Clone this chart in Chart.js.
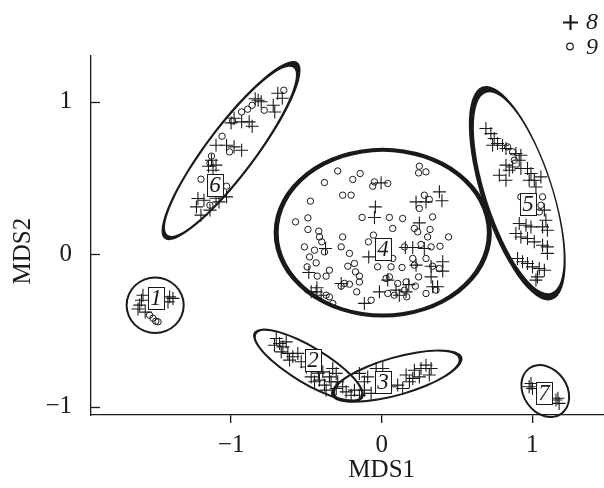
<!DOCTYPE html>
<html>
<head>
<meta charset="utf-8">
<script src="https://cdn.jsdelivr.net/npm/chart.js@4.4.0/dist/chart.umd.min.js"></script>
<style>
  html, body { margin: 0; padding: 0; overflow: hidden; background: #fff; }
  #wrap { width: 680px; height: 488px; }
</style>
</head>
<body>
<div id="wrap"><canvas id="mds" width="680" height="488"></canvas></div>
<script>
// MDS coordinates, one small list per cluster
const plus1 = [[-1.585,-0.269],[-1.595,-0.302],[-1.607,-0.334],[-1.408,-0.28],[-1.386,-0.29],[-1.419,-0.313],[-1.618,-0.36],[-1.57,-0.38]];
const circle1 = [[-1.519,-0.42],[-1.485,-0.444],[-1.541,-0.40],[-1.50,-0.44]];

const plus2 = [[-0.70,-0.553],[-0.678,-0.586],[-0.712,-0.597],[-0.656,-0.608],[-0.634,-0.575],[-0.667,-0.641],
  [-0.623,-0.651],[-0.59,-0.673],[-0.612,-0.695],[-0.557,-0.651],[-0.534,-0.706],[-0.391,-0.772],[-0.325,-0.75],
  [-0.302,-0.782],[-0.347,-0.805],[-0.468,-0.805],[-0.446,-0.837],[-0.413,-0.826],[-0.38,-0.859],[-0.336,-0.837],
  [-0.292,-0.837],[-0.369,-0.892],[-0.302,-0.881],[-0.259,-0.87],[-0.42,-0.78],[-0.50,-0.74]];

const plus3 = [[-0.236,-0.903],[-0.181,-0.892],[-0.203,-0.925],[-0.148,-0.925],[-0.115,-0.892],[-0.07,-0.913],
  [-0.148,-0.782],[-0.093,-0.805],[-0.115,-0.837],[-0.037,-0.75],[0.007,-0.75],[0.062,-0.87],[0.106,-0.859],
  [0.139,-0.881],[0.184,-0.837],[0.162,-0.793],[0.217,-0.761],[0.261,-0.75],[0.294,-0.728],[0.328,-0.75],
  [0.25,-0.805],[0.316,-0.793],[0.206,-0.815]];

const plus4 = [[-0.042,0.31],[-0.048,0.241],[-0.004,0.468],[0.228,0.343],[0.294,0.343],[0.383,0.409],[0.40,0.35],
  [0.25,0.205],[-0.373,0.037],[-0.086,-0.018],[0.157,0.044],[0.206,0.044],[0.283,0.037],[0.228,-0.072],[0.328,-0.079],
  [0.405,-0.05],[0.405,-0.111],[-0.484,-0.12],[0.328,-0.149],[0.338,-0.214],[0.371,-0.214],[-0.269,-0.192],
  [0.04,-0.17],[-0.015,-0.247],[0.095,-0.236],[0.162,-0.247],[0.117,-0.269],[-0.435,-0.247],[-0.402,-0.269],
  [-0.468,-0.247],[-0.115,-0.323],[0.18,-0.20],[-0.43,-0.22]];
const circle4 = [[0.25,0.577],[0.294,0.54],[0.245,0.533],[-0.292,0.546],[-0.143,0.529],[-0.192,0.49],[-0.38,0.47],
  [-0.048,0.474],[-0.06,0.446],[0.04,0.464],[-0.259,0.387],[-0.203,0.387],[0.283,0.387],[0.316,0.359],[-0.473,0.348],
  [0.25,0.30],[-0.13,0.241],[0.051,0.241],[0.139,0.234],[0.338,0.245],[-0.572,0.212],[-0.49,0.238],[-0.49,0.162],
  [-0.418,0.151],[0.073,0.169],[0.217,0.169],[0.321,0.162],[0.239,0.146],[0.305,0.113],[0.444,0.113],[-0.259,0.113],
  [-0.413,0.113],[-0.398,0.081],[-0.088,0.081],[-0.055,0.125],[-0.513,0.048],[-0.446,0.026],[-0.38,0.015],
  [-0.269,0.048],[-0.214,0.005],[0.151,0.048],[0.261,0.064],[0.328,0.048],[0.387,0.052],[-0.479,-0.018],
  [-0.435,-0.057],[0.073,-0.028],[0.206,-0.028],[0.294,-0.028],[-0.495,-0.083],[-0.347,-0.105],[-0.369,-0.144],
  [-0.428,-0.144],[-0.225,-0.079],[-0.181,-0.061],[-0.174,-0.116],[-0.148,-0.144],[-0.027,-0.083],[0.062,-0.083],
  [0.135,-0.087],[0.217,-0.072],[0.338,-0.079],[0.383,-0.094],[0.245,-0.149],[0.223,-0.21],[0.029,-0.159],
  [0.051,-0.149],[-0.247,-0.192],[-0.214,-0.197],[-0.269,-0.21],[-0.148,-0.182],[-0.166,-0.247],[0.106,-0.192],
  [0.162,-0.182],[0.151,-0.236],[0.04,-0.258],[0.084,-0.269],[0.166,-0.28],[-0.369,-0.269],[-0.325,-0.323],
  [-0.347,-0.28],[-0.07,-0.302],[0.294,-0.258],[0.361,-0.236]];

const plus5 = [[0.692,0.824],[0.725,0.791],[0.747,0.759],[0.736,0.715],[0.769,0.726],[0.802,0.715],[0.825,0.693],
  [0.891,0.66],[0.924,0.649],[0.913,0.616],[0.825,0.584],[0.847,0.551],[0.869,0.572],[0.924,0.562],[0.968,0.562],
  [0.991,0.529],[1.013,0.485],[0.979,0.485],[0.781,0.518],[0.825,0.485],[1.024,0.441],[1.057,0.507],[1.08,0.289],
  [1.09,0.223],[1.068,0.179],[1.10,0.157],[0.913,0.201],[0.958,0.19],[0.991,0.179],[0.891,0.136],[0.924,0.113],
  [0.968,0.103],[1.013,0.081],[1.068,0.059],[1.10,0.048],[1.10,0.005],[0.902,-0.028],[0.935,-0.05],[0.968,-0.061],
  [1.001,-0.083],[1.046,-0.094],[1.08,-0.105],[1.034,-0.149],[1.024,-0.17]];
const circle5 = [[0.836,0.704],[0.869,0.671],[0.88,0.616],[0.924,0.376],[1.068,0.376],[1.057,0.321],[1.046,0.277]];

const plus6 = [[-0.69,1.056],[-0.66,1.023],[-0.72,0.977],[-0.71,0.933],[-0.82,1.01],[-0.80,1.00],[-0.84,1.02],
  [-0.98,0.892],[-1.00,0.861],[-0.93,0.868],[-0.88,0.868],[-0.86,0.839],[-1.10,0.715],[-1.03,0.715],[-0.98,0.704],
  [-0.93,0.682],[-1.13,0.616],[-1.10,0.584],[-1.15,0.577],[-1.12,0.551],[-1.22,0.365],[-1.18,0.354],[-1.10,0.367],
  [-1.03,0.376],[-1.23,0.31],[-1.20,0.256],[-1.14,0.289],[-1.08,0.343]];
const circle6 = [[-0.65,1.075],[-0.89,0.951],[-0.93,0.933],[-0.86,0.977],[-0.78,0.944],[-0.99,0.874],[-1.06,0.774],
  [-1.01,0.671],[-1.13,0.643],[-1.14,0.597],[-1.20,0.492],[-1.03,0.446],[-1.14,0.321]];

const plus7 = [[0.991,-0.848],[1.001,-0.881],[0.979,-0.87],[1.157,-0.957],[1.178,-0.979],[1.17,-0.945]];

// cluster number tags
const clusterNames = ['1', '2', '3', '4', '5', '6', '7'];
const clusterLabelX = [-1.50, -0.457, 0.007, 0.007, 0.968, -1.109, 1.079];
const clusterLabelY = [-0.29, -0.695, -0.837, 0.037, 0.332, 0.452, -0.913];

// cluster ellipses (centre, semi-axes in MDS units, tilt in degrees)
const ellipseCx = [-1.504, -0.486, 0.10, 0.007, 0.90, -1.00, 1.086];
const ellipseCy = [-0.335, -0.728, -0.80, 0.141, 0.40, 0.68, -0.898];
const ellipseA = [0.195, 0.42, 0.45, 0.72, 0.74, 0.73, 0.19];
const ellipseB = [0.19, 0.125, 0.13, 0.56, 0.235, 0.165, 0.15];
const ellipseAngle = [0, -31, 16, 0, -72, 53, -55];

const xTicks = [-1, 0, 1];
const yTicks = [-1, 0, 1];
const legendLabels = ['8', '9'];

const ink = '#1a1a1a';
const serif = '"Liberation Serif", "DejaVu Serif", serif';
// ring thickness at ends / sides and inner offset, px
const ringStyle = [[2, 2, 0, 0], [3, 2, 0, 0], [4, 2, 0, 0], [5, 4, 0, 0], [7, 3, 1.5, -0.5], [6, 2.2, -0.6, 0.8], [2, 2, 0, 0]];

const toPts = arr => arr.map(([x, y]) => ({ x, y }));
const series8 = toPts([...plus1, ...plus2, ...plus3, ...plus4, ...plus5, ...plus6, ...plus7]);
const series9 = toPts([...circle1, ...circle4, ...circle5, ...circle6]);

const minusSign = v => (v < 0 ? '\u2212' + Math.abs(v) : String(v));

const ellipsePlugin = {
    id: 'clusterEllipses',
    beforeDatasetsDraw(chart) {
        const { ctx, scales: { x, y } } = chart;
        const ux = x.getPixelForValue(1) - x.getPixelForValue(0);
        const uy = y.getPixelForValue(0) - y.getPixelForValue(1);
        const u = (ux + uy) / 2;
        ctx.save();
        ctx.fillStyle = ink;
        ellipseCx.forEach((cx, i) => {
            const px = x.getPixelForValue(cx);
            const py = y.getPixelForValue(ellipseCy[i]);
            const a = ellipseA[i] * u, b = ellipseB[i] * u;
            const rot = -ellipseAngle[i] * Math.PI / 180;
            const [ta, tb, dx, dy] = ringStyle[i];
            ctx.beginPath();
            ctx.ellipse(px, py, a, b, rot, 0, 2 * Math.PI);
            const ia = a - ta, ib = b - tb;
            ctx.moveTo(px + dx + ia * Math.cos(rot), py + dy + ia * Math.sin(rot));
            ctx.ellipse(px + dx, py + dy, ia, ib, rot, 0, 2 * Math.PI);
            ctx.fill('evenodd');
        });
        ctx.restore();
    }
};

const tagPlugin = {
    id: 'clusterTags',
    afterDatasetsDraw(chart) {
        const { ctx, scales: { x, y } } = chart;
        ctx.save();
        ctx.font = 'italic 23px ' + serif;
        ctx.textAlign = 'center';
        ctx.textBaseline = 'middle';
        clusterNames.forEach((name, i) => {
            const px = Math.round(x.getPixelForValue(clusterLabelX[i]));
            const py = Math.round(y.getPixelForValue(clusterLabelY[i]));
            ctx.fillStyle = '#fff';
            ctx.fillRect(px - 8, py - 11, 16, 22);
            ctx.strokeStyle = ink;
            ctx.lineWidth = 1;
            ctx.strokeRect(px - 7.5, py - 10.5, 16, 22);
            ctx.fillStyle = ink;
            ctx.fillText(name, px, py + 1);
        });
        ctx.restore();
    }
};

// y ticks point into the plot, legend sits above the right corner
const axisExtras = {
    id: 'axisExtras',
    afterDraw(chart) {
        const { ctx, scales: { y }, chartArea } = chart;
        ctx.save();
        ctx.strokeStyle = ink;
        ctx.lineWidth = 1.3;
        y.ticks.forEach(t => {
            const py = Math.round(y.getPixelForValue(t.value)) + 0.5;
            ctx.beginPath();
            ctx.moveTo(chartArea.left, py);
            ctx.lineTo(chartArea.left + 9, py);
            ctx.stroke();
        });

        ctx.font = 'italic 24px ' + serif;
        ctx.textBaseline = 'middle';
        ctx.fillStyle = ink;
        // "+" entry
        ctx.lineWidth = 2.2;
        ctx.beginPath();
        ctx.moveTo(563, 22.5); ctx.lineTo(578, 22.5);
        ctx.moveTo(570.5, 15); ctx.lineTo(570.5, 30);
        ctx.stroke();
        ctx.fillText(legendLabels[0], 586, 23);
        // "o" entry
        ctx.lineWidth = 1.2;
        ctx.beginPath();
        ctx.arc(570, 46.5, 3.3, 0, 2 * Math.PI);
        ctx.stroke();
        ctx.fillText(legendLabels[1], 586, 48);
        ctx.restore();
    }
};

new Chart(document.getElementById('mds'), {
    type: 'scatter',
    data: {
        datasets: [{
            label: '8',
            data: series8,
            pointStyle: 'cross',
            pointRadius: 6.5,
            borderWidth: 1.1,
            borderColor: ink,
        }, {
            label: '9',
            data: series9,
            pointStyle: 'circle',
            pointRadius: 3.2,
            borderWidth: 1,
            borderColor: ink,
            backgroundColor: 'rgba(255,255,255,0)',
        }],
    },
    options: {
        responsive: false,
        animation: false,
        events: [],
        layout: { padding: { top: 56, right: 7, left: 0, bottom: 0 } },
        plugins: { legend: { display: false }, tooltip: { enabled: false } },
        scales: {
            x: {
                type: 'linear',
                min: -1.93,
                max: 1.93,
                afterBuildTicks: s => { s.ticks = xTicks.map(v => ({ value: v })); },
                afterFit: s => { s.height = 73; },
                grid: { drawOnChartArea: false, drawTicks: true, tickLength: 8, color: ink, lineWidth: 1.3 },
                border: { color: ink, width: 1.3 },
                ticks: { font: { family: serif, size: 25 }, color: ink, padding: 7, maxRotation: 0, callback: minusSign },
                title: { display: true, text: 'MDS1', font: { family: serif, size: 25 }, color: ink, padding: { top: 0, bottom: 3 } },
            },
            y: {
                type: 'linear',
                min: -1.055,
                max: 1.30,
                afterBuildTicks: s => { s.ticks = yTicks.map(v => ({ value: v })); },
                afterFit: s => { s.width = 91; },
                grid: { display: false },
                border: { color: ink, width: 1.3 },
                ticks: { font: { family: serif, size: 25 }, color: ink, padding: 11, callback: minusSign },
                title: { display: true, text: 'MDS2\u00a0\u00a0\u00a0\u00a0\u00a0', font: { family: serif, size: 25 }, color: ink, padding: { top: 8, bottom: 0 } },
            },
        },
    },
    plugins: [ellipsePlugin, tagPlugin, axisExtras],
});
</script>
</body>
</html>
